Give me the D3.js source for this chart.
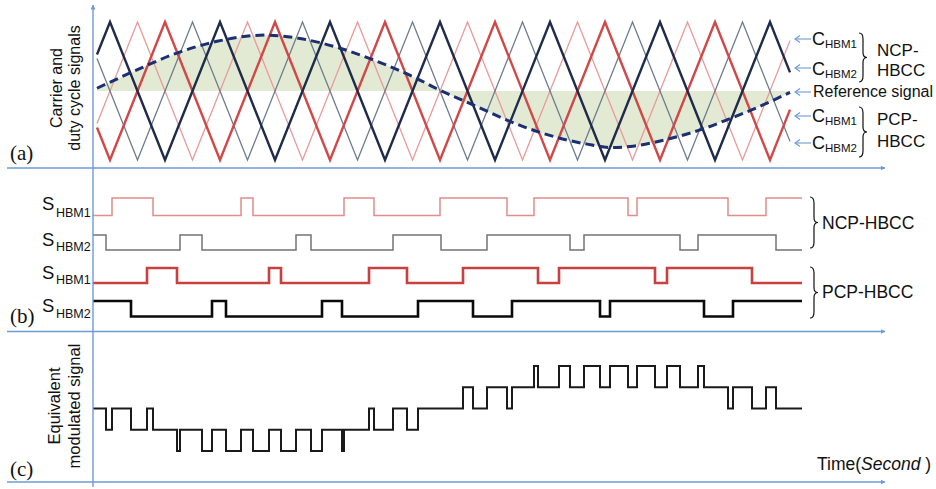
<!DOCTYPE html>
<html>
<head>
<meta charset="utf-8">
<script src="https://cdn.jsdelivr.net/npm/d3@7"></script>
<style>
  body { margin: 0; background: #fff; }
  svg { display: block; font-family: "Liberation Sans", Arial, sans-serif; }
</style>
</head>
<body>
<svg id="chart" width="936" height="489"></svg>
<script>
// Time is in arbitrary units measured from the vertical axis.
// Carriers: triangle-wave vertices [t, normalised value].
const carrierNcp1 = [[4,-0.47],[44.5,1],[99.5,-1],[154.5,1],[209.5,-1],[264.5,1],[319.5,-1],[374.5,1],[429.5,-1],[484.5,1],[539.5,-1],[594.5,1],[649.5,-1],[697,0.73]];
const carrierNcp2 = [[4,0.53],[17,1],[72,-1],[127,1],[182,-1],[237,1],[292,-1],[347,1],[402,-1],[457,1],[512,-1],[567,1],[622,-1],[677,1],[697,0.27]];
const carrierPcp1 = [[4,-0.53],[17,-1],[72,1],[127,-1],[182,1],[237,-1],[292,1],[347,-1],[402,1],[457,-1],[512,1],[567,-1],[622,1],[677,-1],[697,-0.27]];
const carrierPcp2 = [[4,0.47],[44.5,-1],[99.5,1],[154.5,-1],[209.5,1],[264.5,-1],[319.5,1],[374.5,-1],[429.5,1],[484.5,-1],[539.5,1],[594.5,-1],[649.5,1],[697,-0.73]];

// Reference (duty cycle) signal samples [t, value]
const reference = [[4,0.04],[40,0.28],[84,0.55],[124,0.72],[172,0.81],[207,0.76],[247,0.62],[277,0.47],[324,0.18],[347,0.01],[380,-0.2],[417,-0.44],[447,-0.6],[494,-0.77],[519,-0.82],[540,-0.8],[574,-0.7],[610,-0.55],[637,-0.4],[664,-0.24],[697,-0.02]];

// Gate signals: initial state and switching instants
const sNcp1Init = 0, sNcp1Edges = [19,60,148,160,251,281,347,414,441,535,544,635,673];
const sNcp2Init = 1, sNcp2Edges = [13,87,109,203,218,300,348,394,477,491,587,605,683];
const sPcp1Init = 0, sPcp1Edges = [54,84,176,188,276,314,370,445,466,562,574,659];
const sPcp2Init = 1, sPcp2Edges = [38,119,133,229,249,325,380,419,507,517,611,640];
const signalEnd = 709;

// Equivalent modulated signal: [t, level]
const equivalent = [[0,0],[13,-1],[19,0],[38,-1],[54,0],[60,-1],[84,-2],[87,-1],[109,-2],[119,-1],[133,-2],[148,-1],[160,-2],[176,-1],[188,-2],[203,-1],[218,-2],[229,-1],[249,-2],[251,-1],[276,0],[281,-1],[300,0],[314,-1],[325,0],[370,1],[380,0],[394,1],[414,0],[419,1],[441,2],[445,1],[466,2],[477,1],[491,2],[507,1],[517,2],[535,1],[544,2],[562,1],[574,2],[587,1],[605,2],[611,1],[635,0],[640,1],[659,0],[673,1],[683,0],[709,0]];

const svg = d3.select("#chart");
const axisBlue = "#6f9ad6";

const x = d3.scaleLinear().domain([0, 792]).range([93, 885]);
const yA = d3.scaleLinear().domain([-1, 1]).range([160, 22]);
const yC = d3.scaleLinear().domain([-2, 2]).range([451, 366]);

// arrowhead marker for the axes
const defs = svg.append("defs");
defs.append("marker").attr("id", "axArrow")
  .attr("viewBox", "0 0 10 10").attr("refX", 9).attr("refY", 5)
  .attr("markerWidth", 5).attr("markerHeight", 5).attr("orient", "auto")
  .attr("markerUnits", "userSpaceOnUse")
  .append("path").attr("d", "M0,0 L10,5 L0,10 Z").attr("fill", axisBlue);

// ---------- Panel (a): carriers and reference ----------
const lineA = d3.line().x(d => x(d[0])).y(d => yA(d[1]));
const refArea = d3.area().x(d => x(d[0])).y0(yA(0)).y1(d => yA(d[1])).curve(d3.curveMonotoneX);
svg.append("path").datum(reference).attr("d", refArea).attr("fill", "#e3ead4");

const carriers = [
  { data: carrierNcp1, color: "#e99a9a", w: 1.3 },
  { data: carrierPcp2, color: "#6e7c8e", w: 1.3 },
  { data: carrierPcp1, color: "#d04848", w: 2.4 },
  { data: carrierNcp2, color: "#1e2b4b", w: 2.4 }
];
carriers.forEach(c => {
  svg.append("path").datum(c.data).attr("d", lineA)
    .attr("fill", "none").attr("stroke", c.color).attr("stroke-width", c.w)
    .attr("stroke-linejoin", "miter");
});

svg.append("path").datum(reference)
  .attr("d", d3.line().x(d => x(d[0])).y(d => yA(d[1])).curve(d3.curveMonotoneX))
  .attr("fill", "none").attr("stroke", "#1b2f72").attr("stroke-width", 3)
  .attr("stroke-dasharray", "9,5");

// ---------- Panel (b): gate signals ----------
function steps(init, edges) {
  const pts = [[0, init]];
  let s = init;
  edges.forEach(e => { s = 1 - s; pts.push([e, s]); });
  pts.push([signalEnd, s]);
  return pts;
}
const rows = [
  { init: sNcp1Init, edges: sNcp1Edges, lo: 215.5, hi: 198, color: "#e28c8c", w: 1.5 },
  { init: sNcp2Init, edges: sNcp2Edges, lo: 250, hi: 235, color: "#737373", w: 1.5 },
  { init: sPcp1Init, edges: sPcp1Edges, lo: 283, hi: 268, color: "#c8403f", w: 2.6 },
  { init: sPcp2Init, edges: sPcp2Edges, lo: 316.5, hi: 301, color: "#0a0a0a", w: 2.6 }
];
rows.forEach(r => {
  const yr = d3.scaleLinear().domain([0, 1]).range([r.lo, r.hi]);
  svg.append("path").datum(steps(r.init, r.edges))
    .attr("d", d3.line().x(d => x(d[0])).y(d => yr(d[1])).curve(d3.curveStepAfter))
    .attr("fill", "none").attr("stroke", r.color).attr("stroke-width", r.w);
});

// ---------- Panel (c): equivalent signal ----------
svg.append("path").datum(equivalent)
  .attr("d", d3.line().x(d => x(d[0])).y(d => yC(d[1])).curve(d3.curveStepAfter))
  .attr("fill", "none").attr("stroke", "#1a1a1a").attr("stroke-width", 2);

// ---------- Axes ----------
[168, 331.5, 482].forEach(yy => {
  svg.append("line").attr("x1", 7).attr("x2", x(792)).attr("y1", yy).attr("y2", yy)
    .attr("stroke", axisBlue).attr("stroke-width", 1.4).attr("marker-end", "url(#axArrow)");
});
svg.append("line").attr("x1", x(0)).attr("x2", x(0)).attr("y1", 487).attr("y2", 5)
  .attr("stroke", axisBlue).attr("stroke-width", 1.4).attr("marker-end", "url(#axArrow)");

// ---------- Text ----------
function rotLabel(lines, cx, cy, size) {
  lines.forEach((t, i) => {
    svg.append("text").attr("transform", `translate(${cx[i]},${cy}) rotate(-90)`)
      .attr("text-anchor", "middle").attr("font-size", size).attr("fill", "#111").text(t);
  });
}
rotLabel(["Carrier and", "duty cycle signals"], [62, 80], 88, 16);
rotLabel(["Equivalent", "modulated signal"], [60, 80], 406, 16.5);

[["(a)", 160], ["(b)", 323], ["(c)", 476]].forEach(([t, yy]) => {
  svg.append("text").attr("x", 10).attr("y", yy).attr("font-family", "'Liberation Serif', 'Times New Roman', serif")
    .attr("font-size", 21).attr("fill", "#111").text(t);
});

// gate signal labels
const gateLabels = [["HBM1", 210, 217], ["HBM2", 246, 251], ["HBM1", 279, 284], ["HBM2", 312, 318]];
gateLabels.forEach(([sub, b, sb]) => {
  svg.append("text").attr("x", 42).attr("y", b).attr("font-size", 18.5).attr("fill", "#111").text("S");
  svg.append("text").attr("x", 56).attr("y", sb).attr("font-size", 12.5).attr("fill", "#111").text(sub);
});

// carrier legend with arrows
function legendArrow(yy) {
  svg.append("line").attr("x1", 811).attr("x2", 795).attr("y1", yy).attr("y2", yy)
    .attr("stroke", axisBlue).attr("stroke-width", 1.1);
  svg.append("path").attr("d", `M800,${yy - 3.5} L795,${yy} L800,${yy + 3.5}`)
    .attr("fill", "none").attr("stroke", axisBlue).attr("stroke-width", 1.1);
}
const carrierLabels = [["HBM1", 39, 45], ["HBM2", 68, 75], ["HBM1", 116, 122], ["HBM2", 143, 149]];
carrierLabels.forEach(([sub, ay, b]) => {
  legendArrow(ay);
  svg.append("text").attr("x", 812).attr("y", b).attr("font-size", 18).attr("fill", "#111").text("C");
  svg.append("text").attr("x", 825).attr("y", b + 3).attr("font-size", 11.5).attr("fill", "#111").text(sub);
});
legendArrow(92);
svg.append("text").attr("x", 813).attr("y", 97).attr("font-size", 16).attr("fill", "#111").text("Reference signal");

function brace(x0, y0, y1, w) {
  const ym = (y0 + y1) / 2, xm = x0 + w / 2, h = y1 - y0;
  const d = `M${x0},${y0} Q${xm},${y0} ${xm},${y0 + h * 0.12} L${xm},${ym - h * 0.1} Q${xm},${ym} ${x0 + w},${ym}` +
            ` Q${xm},${ym} ${xm},${ym + h * 0.1} L${xm},${y1 - h * 0.12} Q${xm},${y1} ${x0},${y1}`;
  svg.append("path").attr("d", d).attr("fill", "none").attr("stroke", "#111").attr("stroke-width", 1.2);
}
brace(859, 33, 82, 8);
brace(859, 107, 157, 8);
svg.append("text").attr("x", 877).attr("y", 55.5).attr("font-size", 17).attr("fill", "#111").text("NCP-");
svg.append("text").attr("x", 877).attr("y", 76).attr("font-size", 17).attr("fill", "#111").text("HBCC");
svg.append("text").attr("x", 877).attr("y", 125).attr("font-size", 17).attr("fill", "#111").text("PCP-");
svg.append("text").attr("x", 877).attr("y", 147).attr("font-size", 17).attr("fill", "#111").text("HBCC");

brace(810, 197, 248, 8);
brace(810, 267, 318, 8);
svg.append("text").attr("x", 822).attr("y", 229).attr("font-size", 17.5).attr("fill", "#111").text("NCP-HBCC");
svg.append("text").attr("x", 822).attr("y", 298).attr("font-size", 17.5).attr("fill", "#111").text("PCP-HBCC");

const timeLabel = svg.append("text").attr("x", 817).attr("y", 470).attr("font-size", 17.5).attr("fill", "#111");
timeLabel.append("tspan").text("Time(");
timeLabel.append("tspan").attr("font-style", "italic").text("Second");
timeLabel.append("tspan").text(" )");
</script>
</body>
</html>
